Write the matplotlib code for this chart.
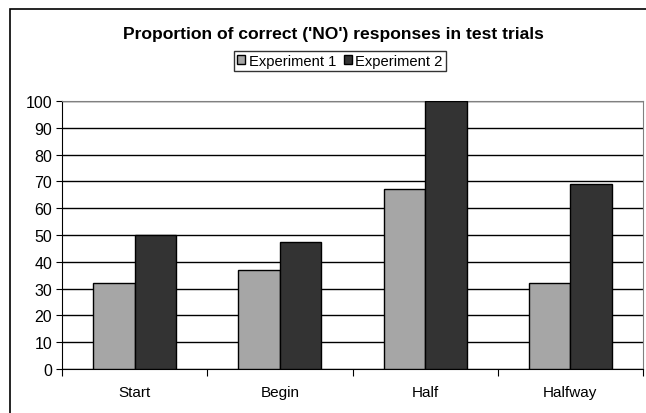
import numpy as np
import matplotlib.pyplot as plt
from matplotlib.patches import Rectangle

categories = ['Start', 'Begin', 'Half', 'Halfway']
exp1 = [32, 37, 67, 32]
exp2 = [50, 47.5, 100, 69]
series_names = ['Experiment 1', 'Experiment 2']
yticks = list(range(0, 101, 10))

plt.rcParams['font.family'] = ['Liberation Sans', 'DejaVu Sans']

W, H = 646, 414
fig = plt.figure(figsize=(W / 100, H / 100), dpi=100)

# chart frame (left and top visible, rest cut off)
fig.add_artist(Rectangle((10 / W, -0.1), 1.2, (H - 10) / H + 0.1, transform=fig.transFigure,
                         fill=False, edgecolor='black', linewidth=1.2))

ax = fig.add_axes([62 / W, 1 - 370 / H, (643 - 62) / W, (370 - 102) / H])

x = np.arange(len(categories))
w = 1 / 3.5
ax.bar(x - w / 2, exp1, w, color='#a6a6a6', edgecolor='black', linewidth=1, label=series_names[0], zorder=3)
ax.bar(x + w / 2, exp2, w, color='#333333', edgecolor='black', linewidth=1, label=series_names[1], zorder=3)

ax.set_xlim(-0.5, len(categories) - 0.5)
ax.set_ylim(0, 100)
ax.set_yticks(yticks)
ax.yaxis.grid(True, color='black', linewidth=1, zorder=0)
ax.set_axisbelow(True)

for s in ['top', 'right']:
    ax.spines[s].set_color('#808080')
ax.spines['left'].set_color('black')
ax.spines['bottom'].set_color('black')

ax.set_xticks(np.arange(len(categories) + 1) - 0.5)
ax.set_xticklabels([])
ax.tick_params(axis='x', direction='out', length=5, color='black')
ax.tick_params(axis='y', direction='out', length=4, labelsize=11.5, pad=3)
for i, c in enumerate(categories):
    ax.text(i, -8.6, c, ha='center', va='center', fontsize=11)

fig.text(333 / W, 1 - 35 / H, "Proportion of correct ('NO') responses in test trials",
         ha='center', va='center', fontsize=12.6, fontweight='bold')

leg = fig.legend(loc='center', bbox_to_anchor=(340 / W, 1 - 62 / H), ncol=2, fontsize=10.6,
                 frameon=True, fancybox=False, edgecolor='black', handlelength=0.55,
                 handleheight=0.55, handletextpad=0.25, columnspacing=0.5,
                 borderpad=0.2, borderaxespad=0)
leg.get_frame().set_linewidth(1)

fig.savefig('out.png', dpi=100)
